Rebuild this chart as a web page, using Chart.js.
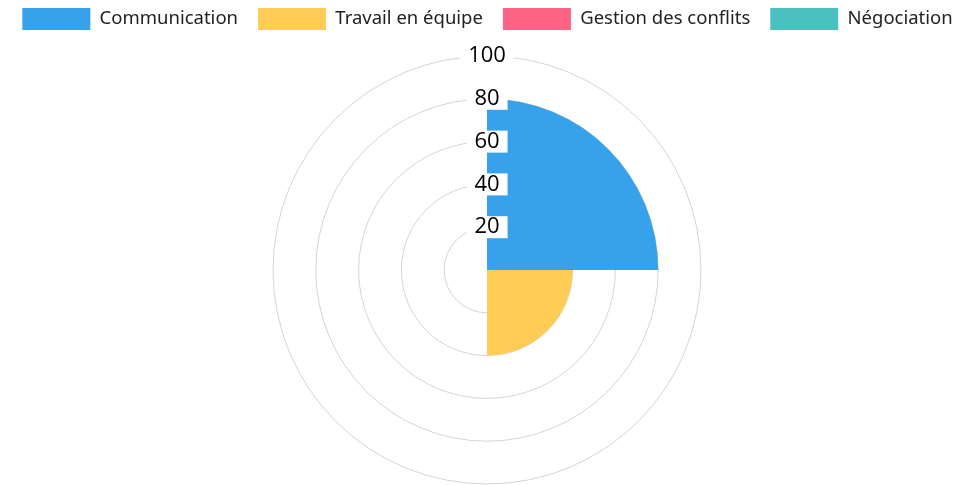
<!DOCTYPE html>
<html>
<head>
<meta charset="utf-8">
<script src="https://cdn.jsdelivr.net/npm/chart.js@4"></script>
<style>
  html, body { margin: 0; padding: 0; background: #fff; overflow: hidden; }
</style>
</head>
<body>
<canvas id="myChart" width="975" height="496"></canvas>
<script>
// compétences et niveaux
const competences = ['Communication', 'Travail en équipe', 'Gestion des conflits', 'Négociation']
const niveaux = [80, 40, 0, 0]
const couleurs = ['#36A2EB', '#FFCD56', '#FF6384', '#4BC0C0']
const graduations = [20, 40, 60, 80, 100]

const data = {
  labels: competences,
  datasets: [{
    label: 'Compétences',
    data: niveaux,
    backgroundColor: couleurs,
    borderWidth: 0
  }]
}

// un peu d'espace sous la légende
const legendMargin = {
  id: 'legendMargin',
  beforeInit(chart) {
    const fit = chart.legend.fit
    chart.legend.fit = function () {
      fit.bind(chart.legend)()
      this.height += 5
    }
  }
}

const config = {
  type: 'polarArea',
  data: data,
  options: {
    responsive: false,
    animation: false,
    layout: { padding: { left: 0, top: -12, bottom: 0, right: 0 } },
    plugins: {
      legend: {
        position: 'top',
        labels: {
          boxWidth: 68,
          boxHeight: 22,
          padding: 20,
          color: '#222',
          font: { family: '"Noto Sans", sans-serif', size: 18.5 }
        }
      },
      tooltip: { enabled: false }
    },
    scales: {
      r: {
        min: 0,
        max: graduations[graduations.length - 1],
        grid: { color: '#d4d4d4' },
        ticks: {
          stepSize: graduations[1] - graduations[0],
          color: '#000',
          font: { family: '"Open Sans", sans-serif', size: 22 },
          backdropColor: '#fff',
          backdropPadding: { x: 8, y: 0 },
          z: 1
        }
      }
    }
  },
  plugins: [legendMargin]
}

const myChart = new Chart(document.getElementById('myChart'), config)
</script>
</body>
</html>
